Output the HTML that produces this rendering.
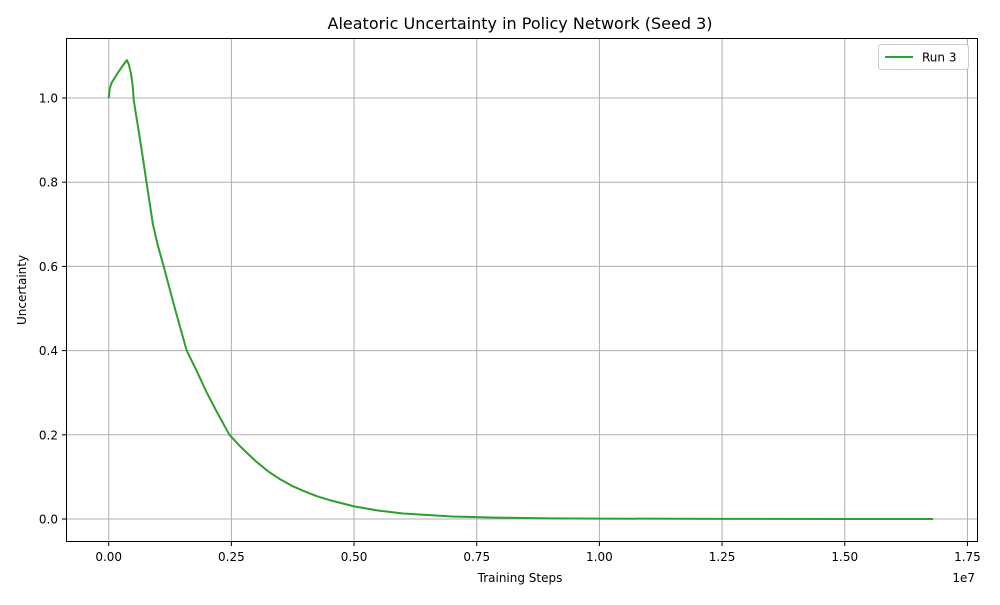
<!DOCTYPE html>
<html><head><meta charset="utf-8"><style>
body{margin:0;background:#fff;}
svg{font-family:"DejaVu Sans","Liberation Sans",sans-serif;}
</style></head><body>
<svg id="chart" width="1000" height="600">
<rect width="1000" height="600" fill="#fff"/>
<text x="520" y="29" font-size="16" text-anchor="middle">Aleatoric Uncertainty in Policy Network (Seed 3)</text>
<g id="grid"></g>
<g id="ticks"></g>
<path id="line" fill="none" stroke="#2ca02c" stroke-width="2" stroke-linejoin="round"/>
<rect x="66.5" y="38.5" width="911" height="503" fill="none" stroke="#000" stroke-width="1"/>
<text x="520" y="582" font-size="12" text-anchor="middle">Training Steps</text>
<text x="975" y="582" font-size="12" text-anchor="end">1e7</text>
<text transform="translate(26,290) rotate(-90)" font-size="12" text-anchor="middle">Uncertainty</text>
<g>
<rect x="878.5" y="44.5" width="90" height="25" rx="3" fill="#fff" stroke="#ccc"/>
<line x1="885" y1="57" x2="913" y2="57" stroke="#2ca02c" stroke-width="2"/>
<text x="922" y="61.5" font-size="12">Run 3</text>
</g>
</svg>
<script>
const steps = [0,0.002,0.006,0.016,0.028,0.037,0.041,0.045,0.049,0.051,0.059,0.068,0.077,0.09,0.1,0.112,0.135,0.159,0.18,0.2,0.22,0.246,0.27,0.3,0.325,0.35,0.375,0.4,0.425,0.45,0.5,0.55,0.6,0.7,0.8,0.9,1.0,1.25,1.5,1.68];
const values = [1.0,1.022,1.036,1.055,1.076,1.09,1.08,1.06,1.03,0.995,0.936,0.87,0.8,0.7,0.65,0.6,0.5,0.4,0.35,0.3,0.255,0.2,0.17,0.137,0.113,0.094,0.078,0.065,0.054,0.045,0.03,0.02,0.013,0.006,0.003,0.0015,0.001,0.0003,0.0001,0];
const xTicks = [0,0.25,0.5,0.75,1.0,1.25,1.5,1.75];
const xTickLabels = ["0.00","0.25","0.50","0.75","1.00","1.25","1.50","1.75"];
const yTicks = [0,0.2,0.4,0.6,0.8,1.0];
const yTickLabels = ["0.0","0.2","0.4","0.6","0.8","1.0"];
const X = v => 108.7 + v*490.7;
const Y = v => 519 - v*421;
const NS="http://www.w3.org/2000/svg";
const grid=document.getElementById('grid'), ticks=document.getElementById('ticks');
function mk(tag,attrs,parent){const e=document.createElementNS(NS,tag);for(const k in attrs)e.setAttribute(k,attrs[k]);parent.appendChild(e);return e;}
xTicks.forEach((t,i)=>{
  const x=X(t);
  const g=mk('line',{x1:x,x2:x,y1:38,y2:542,stroke:'#b0b0b0','stroke-width':1},grid);
  
  
  mk('line',{x1:x,x2:x,y1:542,y2:546,stroke:'#000'},ticks);
  const tx=mk('text',{x:x,y:561,'font-size':12,'text-anchor':'middle'},ticks);
  tx.textContent=xTickLabels[i];
  
  
});
yTicks.forEach((t,i)=>{
  const y=Y(t);
  const g=mk('line',{x1:66,x2:978,y1:y,y2:y,stroke:'#b0b0b0','stroke-width':1},grid);
  
  
  mk('line',{x1:62,x2:66,y1:y,y2:y,stroke:'#000'},ticks);
  const tx=mk('text',{x:58,y:y+4.5,'font-size':12,'text-anchor':'end'},ticks);
  tx.textContent=yTickLabels[i];
  
  
});
document.getElementById('line').setAttribute('d',steps.map((s,i)=>(i?'L':'M')+X(s).toFixed(1)+','+Y(values[i]).toFixed(1)).join(''));
</script>
</body></html>
